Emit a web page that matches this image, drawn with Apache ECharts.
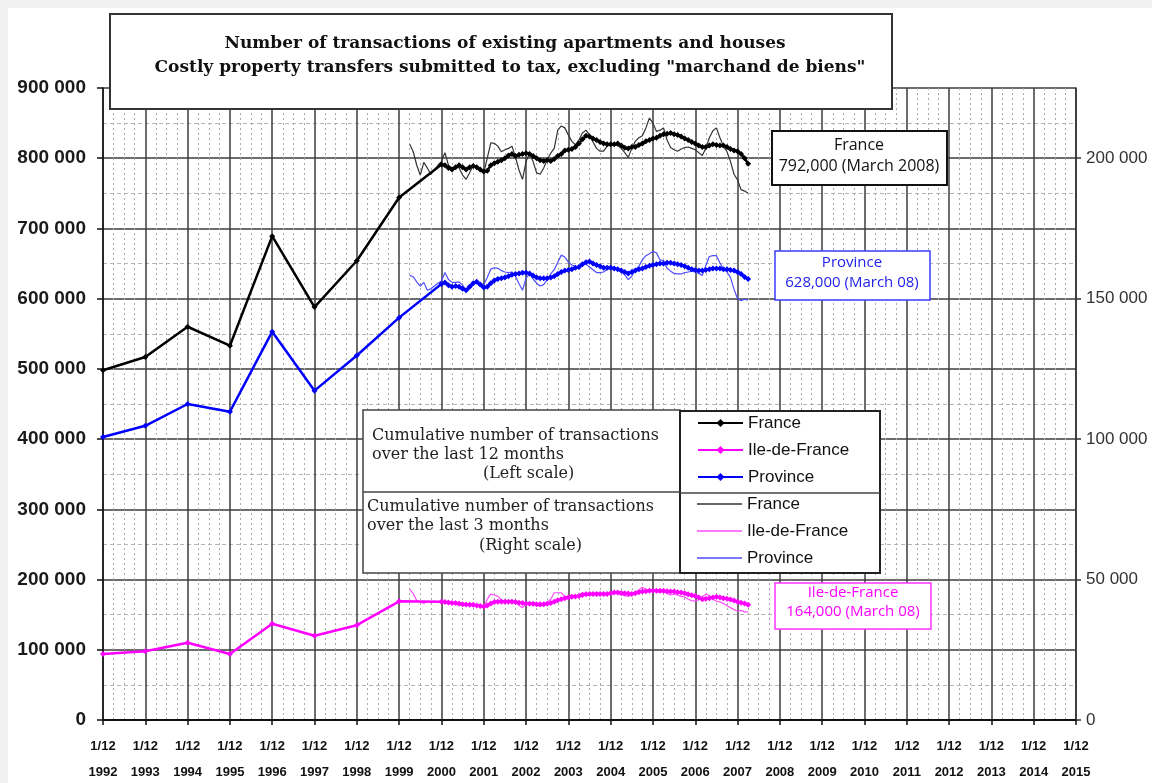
<!DOCTYPE html>
<html>
<head>
<meta charset="utf-8">
<script src="https://cdn.jsdelivr.net/npm/echarts@6/dist/echarts.min.js"></script>
<style>
  html, body { margin: 0; padding: 0; background: #fff; }
  #chart { width: 1152px; height: 783px; }
</style>
</head>
<body>
<div id="chart"></div>
<script>
// values in thousands
var annualYears = [1992, 1993, 1994, 1995, 1996, 1997, 1998, 1999]
var franceAnnual = [498, 517, 560, 533, 689, 588, 654, 744]
var provinceAnnual = [403, 419, 450, 439, 553, 469, 519, 573]
var idfAnnual = [94, 98, 110, 94, 137, 120, 135, 169]

// 12-month cumulative, monthly from 1/12 2000 (left scale)
var monthlyStart = 2000
var franceMonthly = [
  791, 790, 786, 784, 787, 790, 787, 784, 787, 789, 787, 784,
  781, 782, 790, 793, 795, 797, 800, 804, 806, 803, 805, 806,
  807, 806, 803, 800, 797, 796, 797, 796, 799, 803, 806, 811,
  812, 813, 816, 821, 827, 832, 831, 828, 826, 823, 821, 820,
  820, 820, 821, 818, 815, 814, 816, 816, 819, 821, 824, 826,
  828, 829, 832, 834, 835, 836, 834, 833, 831, 828, 826, 823,
  821, 818, 816, 816, 818, 820, 819, 818, 818, 816, 813, 811,
  810, 806, 800, 792
]
var provinceMonthly = [
  621, 623, 619, 617, 618, 617, 614, 612, 617, 622, 624, 620,
  616, 617, 622, 626, 628, 629, 630, 632, 634, 635, 636, 637,
  637, 636, 633, 630, 629, 629, 629, 630, 632, 635, 638, 640,
  641, 642, 644, 645, 649, 652, 653, 650, 648, 646, 644, 644,
  644, 643, 642, 640, 638, 636, 638, 640, 642, 643, 645, 647,
  648, 649, 650, 650, 651, 651, 650, 649, 648, 646, 644, 642,
  641, 640, 640, 641, 642, 643, 643, 643, 642, 642, 641, 640,
  638, 635, 631, 628
]
var idfMonthly = [
  168.5, 168, 167.5, 166.5, 166.5, 166, 165, 164.5, 164, 164, 163, 162.5,
  161.5, 163, 166, 168, 168.5, 168.5, 168.5, 168.5, 168.5, 168, 167, 166.5,
  166, 165.5, 165.5, 165, 165, 165, 165.5, 166.5, 168.5, 170.5, 172, 173.5,
  174.5, 175.5, 176, 176.5, 178, 179, 179.5, 179.5, 179.5, 179.5, 179.5, 179.5,
  180.5, 181.5, 181.5, 181, 180.5, 180, 179.5, 180.5, 182, 183, 183.5, 184,
  184, 184, 184, 184, 183.5, 183, 183, 182, 181.5, 180.5, 179, 177.5,
  176.5, 174.5, 172, 172.5, 173.5, 174.5, 175.5, 174.5, 173.5, 172.5, 171.5, 170,
  168.5, 167, 166, 164
]

// 3-month cumulative, monthly from 1999.25 (right scale)
var thinStart = 1999.25
var franceThin = [
  205.0, 202.3, 197.5, 194.0, 198.5, 196.5, 194.3, 195.8, 197.5,
  198.8, 202.0, 197.5, 196.5, 197.0, 196.5, 194.0, 192.5, 194.8, 197.5, 196.5, 195.5,
  194.8, 200.0, 205.5, 205.3, 204.3, 202.3, 203.0, 203.5, 204.3, 200.5, 195.8, 192.5,
  198.8, 201.8, 198.8, 194.8, 194.3, 196.5, 199.5, 201.8, 203.5, 210.0, 211.5, 210.8,
  208.3, 206.0, 204.8, 206.5, 209.0, 210.0, 208.3, 205.8, 203.5, 202.5, 202.5, 204.3,
  205.0, 204.8, 204.5, 203.5, 202.0, 200.3, 203.5, 206.0, 207.3, 208.0, 210.8, 214.3,
  212.5, 209.5, 210.0, 210.8, 206.5, 203.8, 203.0, 202.5, 203.3, 203.8, 204.0, 203.5,
  203.0, 202.0, 201.0, 203.5, 207.3, 209.8, 210.8, 207.3, 204.3, 202.3, 198.8, 194.3,
  192.3, 188.8, 188.3, 187.5
]
var provinceThin = [
  158.3, 157.8, 156.0, 154.5, 155.8, 153.0, 153.5, 154.5, 155.5,
  156.3, 159.3, 156.8, 155.8, 155.8, 156.0, 154.8, 153.0, 153.5, 154.8, 156.0, 155.5,
  155.0, 157.5, 160.5, 161.0, 160.8, 160.0, 159.5, 159.3, 159.5, 158.0, 155.3, 153.0,
  157.3, 158.8, 157.0, 155.5, 154.5, 155.0, 156.8, 158.8, 160.3, 163.0, 165.5, 164.8,
  163.0, 162.0, 161.5, 161.0, 162.5, 162.3, 161.3, 160.3, 159.3, 159.3, 159.5, 160.5,
  160.8, 160.8, 160.5, 159.5, 158.5, 156.8, 158.0, 160.3, 161.5, 163.8, 165.3, 166.0,
  166.8, 166.3, 163.8, 163.5, 160.8, 159.8, 159.0, 158.8, 158.8, 159.3, 159.5, 159.8,
  159.5, 159.0, 158.3, 161.8, 165.0, 165.3, 165.3, 162.8, 160.5, 159.5, 157.5, 153.3,
  150.0, 149.3, 149.8, 149.5
]
var idfThin = [
  46.5, 45.0, 42.5, 42.0, 41.5, 42.3, 41.8, 42.3, 42.0,
  42.5, 41.8, 41.3, 41.8, 41.5, 40.8, 41.3, 41.5, 40.8, 40.5, 41.0, 40.3,
  40.0, 43.0, 44.8, 44.5, 44.0, 42.8, 42.3, 42.5, 42.3, 41.8, 40.8, 40.0,
  41.5, 42.0, 41.3, 40.8, 40.5, 41.0, 42.0, 43.0, 45.3, 45.3, 45.3, 44.0,
  43.8, 44.3, 44.0, 44.5, 45.3, 45.0, 44.5, 44.8, 45.3, 45.0, 44.5, 44.8,
  45.3, 45.5, 45.0, 44.5, 44.3, 44.0, 44.8, 45.5, 46.3, 47.3, 46.5, 46.0,
  46.5, 45.8, 45.3, 45.8, 45.0, 44.5, 44.8, 44.5, 44.0, 43.8, 43.0, 42.5,
  42.3, 42.8, 44.0, 44.8, 44.3, 43.0, 42.3, 42.0, 41.5, 40.8, 40.0, 39.3,
  38.8, 39.0, 38.5, 38.5
]

var thickNames = ['France', 'Ile-de-France', 'Province']
var thinNames = ['France (3m)', 'Ile-de-France (3m)', 'Province (3m)']

function thickData (annual, monthly) {
  var d = annualYears.map(function (y, i) { return [y, annual[i]] })
  return d.concat(monthly.map(function (v, i) { return [monthlyStart + i / 12, v] }))
}
function thinData (arr) {
  return arr.map(function (v, i) { return [thinStart + i / 12, v] })
}
function kFmt (v) { return v === 0 ? '0' : v + ' 000' }

var chart = echarts.init(document.getElementById('chart'))

var serif = '"DejaVu Serif", serif'
var sans = '"Open Sans", sans-serif'
var legendText = { fontFamily: '"Liberation Sans", Arial', fontSize: 17, color: '#111', lineHeight: 18 }

chart.setOption({
  animation: false,
  backgroundColor: '#fff',
  grid: { left: 103, right: 76, top: 88, bottom: 63, outerBoundsMode: 'none', containLabel: false },
  legend: [
    {
      data: thickNames,
      orient: 'vertical',
      left: 697,
      top: 414,
      padding: 0,
      z: 150,
      itemWidth: 45,
      itemHeight: 10,
      itemGap: 9,
      selectedMode: false,
      textStyle: legendText
    },
    {
      data: thinNames.map(function (n) { return { name: n, icon: 'rect' } }),
      orient: 'vertical',
      left: 697,
      top: 495,
      padding: 0,
      z: 150,
      itemWidth: 45,
      itemHeight: 1.5,
      itemGap: 9,
      selectedMode: false,
      formatter: function (n) { return n.replace(' (3m)', '') },
      textStyle: legendText
    }
  ],
  xAxis: {
    type: 'value',
    min: 1992,
    max: 2015,
    interval: 1,
    axisLine: { show: true, lineStyle: { color: '#111', width: 2 } },
    axisTick: { show: true, length: 5, lineStyle: { color: '#111', width: 1.5 } },
    axisLabel: {
      formatter: function (v) { return '1/12\n' + v },
      fontFamily: '"Liberation Sans", Arial',
      fontSize: 13,
      fontWeight: 'bold',
      color: '#111',
      lineHeight: 26,
      margin: 13,
      showMinLabel: true,
      showMaxLabel: true
    },
    splitLine: { show: true, lineStyle: { color: '#3c3c3c', width: 1.5 } },
    minorTick: { show: false, splitNumber: 4 },
    minorSplitLine: { show: true, lineStyle: { color: '#a8a8a8', width: 1, type: [2, 3] } }
  },
  yAxis: [
    {
      type: 'value',
      min: 0,
      max: 900,
      interval: 100,
      axisLine: { show: true, lineStyle: { color: '#111', width: 1.5 } },
      axisTick: { show: true, length: 6, lineStyle: { color: '#111', width: 1.5 } },
      axisLabel: {
        formatter: kFmt,
        fontFamily: '"Liberation Sans", Arial',
        fontSize: 19,
        fontWeight: 'bold',
        color: '#1a1a1a',
        margin: 17
      },
      splitLine: { show: true, lineStyle: { color: '#3c3c3c', width: 1.5 } },
      minorTick: { show: false, splitNumber: 2 },
      minorSplitLine: { show: true, lineStyle: { color: '#b4b4b4', width: 1, type: [4, 3] } }
    },
    {
      type: 'value',
      position: 'right',
      min: 0,
      max: 225,
      interval: 50,
      axisLine: { show: true, lineStyle: { color: '#333', width: 1.5 } },
      axisTick: { show: true, length: 5, lineStyle: { color: '#333', width: 1.5 } },
      axisLabel: {
        formatter: kFmt,
        fontFamily: '"Liberation Sans", Arial',
        fontSize: 17,
        color: '#333',
        margin: 10,
        showMaxLabel: false
      },
      splitLine: { show: false }
    }
  ],
  series: [
    {
      name: thinNames[0], type: 'line', yAxisIndex: 1, symbol: 'none',
      lineStyle: { color: '#333', width: 1.2 }, itemStyle: { color: '#333' },
      data: thinData(franceThin), z: 3
    },
    {
      name: thinNames[1], type: 'line', yAxisIndex: 1, symbol: 'none',
      lineStyle: { color: '#ff4dff', width: 1.2 }, itemStyle: { color: '#ff4dff' },
      data: thinData(idfThin), z: 3
    },
    {
      name: thinNames[2], type: 'line', yAxisIndex: 1, symbol: 'none',
      lineStyle: { color: '#4d4dff', width: 1.2 }, itemStyle: { color: '#4d4dff' },
      data: thinData(provinceThin), z: 3
    },
    {
      name: thickNames[0], type: 'line', symbol: 'diamond', symbolSize: 6, showAllSymbol: true,
      lineStyle: { color: '#000', width: 2.5 }, itemStyle: { color: '#000' },
      data: thickData(franceAnnual, franceMonthly), z: 4
    },
    {
      name: thickNames[1], type: 'line', symbol: 'diamond', symbolSize: 6, showAllSymbol: true,
      lineStyle: { color: '#ff00ff', width: 2.5 }, itemStyle: { color: '#ff00ff' },
      data: thickData(idfAnnual, idfMonthly), z: 4
    },
    {
      name: thickNames[2], type: 'line', symbol: 'diamond', symbolSize: 6, showAllSymbol: true,
      lineStyle: { color: '#0000ff', width: 2.5 }, itemStyle: { color: '#0000ff' },
      data: thickData(provinceAnnual, provinceMonthly), z: 4
    }
  ],
  graphic: [
    // faint page frame
    { type: 'rect', shape: { x: 0, y: 0, width: 1152, height: 8 }, style: { fill: '#f0f0f0' }, silent: true },
    { type: 'rect', shape: { x: 0, y: 0, width: 8, height: 783 }, style: { fill: '#f0f0f0' }, silent: true },
    // title box
    { type: 'rect', shape: { x: 110, y: 14, width: 782, height: 95 }, style: { fill: '#fff', stroke: '#333', lineWidth: 2 }, z: 100 },
    { type: 'text', z: 101, style: { x: 505, y: 44, text: 'Number of transactions of existing apartments and houses', font: 'bold 17px ' + serif, fill: '#111', align: 'center', verticalAlign: 'middle' } },
    { type: 'text', z: 101, style: { x: 510, y: 68, text: 'Costly property transfers submitted to tax, excluding "marchand de biens"', font: 'bold 17px ' + serif, fill: '#111', align: 'center', verticalAlign: 'middle' } },
    // France note
    { type: 'rect', shape: { x: 772, y: 131, width: 175, height: 54 }, style: { fill: '#fff', stroke: '#111', lineWidth: 2 }, z: 100 },
    { type: 'text', z: 101, style: { x: 859, y: 145, text: 'France', font: '16px ' + sans, fill: '#111', align: 'center', verticalAlign: 'middle' } },
    { type: 'text', z: 101, style: { x: 859, y: 166, text: '792,000 (March 2008)', font: '16px ' + sans, fill: '#111', align: 'center', verticalAlign: 'middle' } },
    // Province note
    { type: 'rect', shape: { x: 775, y: 251, width: 155, height: 49 }, style: { fill: '#fff', stroke: '#3b3bff', lineWidth: 1.5 }, z: 100 },
    { type: 'text', z: 101, style: { x: 852, y: 263, text: 'Province', font: '15px ' + sans, fill: '#2222ee', align: 'center', verticalAlign: 'middle' } },
    { type: 'text', z: 101, style: { x: 852, y: 283, text: '628,000 (March 08)', font: '15px ' + sans, fill: '#2222ee', align: 'center', verticalAlign: 'middle' } },
    // Ile-de-France note
    { type: 'rect', shape: { x: 775, y: 583, width: 156, height: 46 }, style: { fill: '#fff', stroke: '#ff33ff', lineWidth: 1.5 }, z: 100 },
    { type: 'text', z: 101, style: { x: 853, y: 593, text: 'Ile-de-France', font: '15px ' + sans, fill: '#ff00ff', align: 'center', verticalAlign: 'middle' } },
    { type: 'text', z: 101, style: { x: 853, y: 612, text: '164,000 (March 08)', font: '15px ' + sans, fill: '#ff00ff', align: 'center', verticalAlign: 'middle' } },
    // legend panel: text side
    { type: 'rect', shape: { x: 363, y: 410, width: 317, height: 163 }, style: { fill: '#fff', stroke: '#444', lineWidth: 1.5 }, z: 100 },
    { type: 'line', shape: { x1: 363, y1: 492, x2: 680, y2: 492 }, style: { stroke: '#444', lineWidth: 1.5 }, z: 101 },
    { type: 'text', z: 101, style: { x: 372, y: 436, text: 'Cumulative number of transactions', font: '16px ' + serif, fill: '#222', align: 'left', verticalAlign: 'middle' } },
    { type: 'text', z: 101, style: { x: 372, y: 455, text: 'over the last 12 months', font: '16px ' + serif, fill: '#222', align: 'left', verticalAlign: 'middle' } },
    { type: 'text', z: 101, style: { x: 483, y: 474, text: '(Left scale)', font: '16px ' + serif, fill: '#222', align: 'left', verticalAlign: 'middle' } },
    { type: 'text', z: 101, style: { x: 367, y: 507, text: 'Cumulative number of transactions', font: '16px ' + serif, fill: '#222', align: 'left', verticalAlign: 'middle' } },
    { type: 'text', z: 101, style: { x: 367, y: 526, text: 'over the last 3 months', font: '16px ' + serif, fill: '#222', align: 'left', verticalAlign: 'middle' } },
    { type: 'text', z: 101, style: { x: 479, y: 546, text: '(Right scale)', font: '16px ' + serif, fill: '#222', align: 'left', verticalAlign: 'middle' } },
    // legend panel: keys side (legend components drawn above)
    { type: 'rect', shape: { x: 680, y: 411, width: 200, height: 162 }, style: { fill: '#fff', stroke: '#222', lineWidth: 2 }, z: 100 },
    { type: 'line', shape: { x1: 680, y1: 493, x2: 880, y2: 493 }, style: { stroke: '#444', lineWidth: 1.5 }, z: 101 }
  ]
})
</script>
</body>
</html>
